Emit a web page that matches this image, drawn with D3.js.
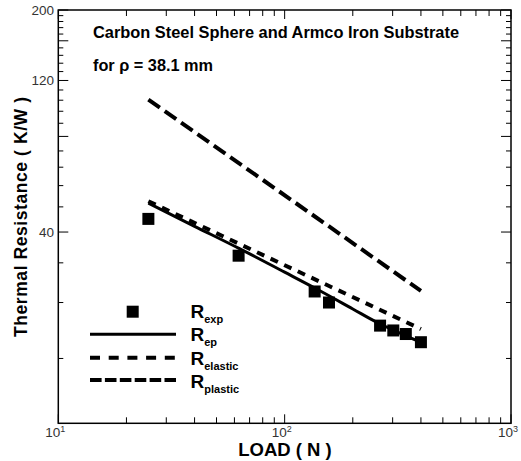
<!DOCTYPE html>
<html><head><meta charset="utf-8">
<script src="https://cdn.jsdelivr.net/npm/d3@7"></script>
<style>body{margin:0;background:#fff} svg{display:block} text{font-family:"Liberation Sans",Arial,Helvetica,sans-serif}</style>
</head><body><svg id="c" width="521" height="461"></svg>
<script>
const expLoad = [25, 62.6, 135.7, 157, 264, 302, 343, 400];
const expR = [44.0, 33.7, 26.0, 24.0, 20.3, 19.6, 19.1, 18.0];
const epLoad = [25, 40, 63.5, 100, 134, 200, 255, 330, 400];
const epR = [49.3, 41.7, 35.4, 29.9, 26.8, 22.9, 20.8, 19.1, 18.0];
const elasticLoad = [25, 400];
const elasticR = [50.0, 19.8];
const plasticLoad = [25, 400];
const plasticR = [104.5, 26.1];
const xMajorTicks = [10, 100, 1000];
const xTickExp = ["1", "2", "3"];
const yLabelTicks = [40, 120, 200];
const yMajorTicks = [40, 80, 120, 160, 200];
const legendItems = [["R", "exp"], ["R", "ep"], ["R", "elastic"], ["R", "plastic"]];

const svg = d3.select("#c");
const L = 58.3, R = 511, T = 10, B = 423.3;
const x = d3.scaleLog().domain([10, 1000]).range([L, R]);
const y = d3.scaleLog().domain([10, 200]).range([B, T]);

// minor ticks
const xMinor = [];
[10, 100].forEach(d => { for (let k = 2; k <= 9; k++) xMinor.push(d * k); });
const yMinor = d3.range(16, 200, 8).filter(v => yMajorTicks.indexOf(v) < 0);

const g = svg.append("g").attr("stroke", "#000").attr("stroke-width", 1);
xMinor.forEach(v => {
  g.append("line").attr("x1", x(v)).attr("x2", x(v)).attr("y1", B).attr("y2", B - 6);
  g.append("line").attr("x1", x(v)).attr("x2", x(v)).attr("y1", T).attr("y2", T + 6);
});
xMajorTicks.forEach(v => {
  g.append("line").attr("x1", x(v)).attr("x2", x(v)).attr("y1", B).attr("y2", B - 9);
  g.append("line").attr("x1", x(v)).attr("x2", x(v)).attr("y1", T).attr("y2", T + 9);
});
yMinor.forEach(v => {
  g.append("line").attr("x1", L).attr("x2", L + 5).attr("y1", y(v)).attr("y2", y(v));
  g.append("line").attr("x1", R).attr("x2", R - 5).attr("y1", y(v)).attr("y2", y(v));
});
yMajorTicks.forEach(v => {
  g.append("line").attr("x1", L).attr("x2", L + 10).attr("y1", y(v)).attr("y2", y(v));
  g.append("line").attr("x1", R).attr("x2", R - 10).attr("y1", y(v)).attr("y2", y(v));
});
svg.append("rect").attr("x", L).attr("y", T).attr("width", R - L).attr("height", B - T)
  .attr("fill", "none").attr("stroke", "#000").attr("stroke-width", 1.5);

// tick labels
yLabelTicks.forEach(v => {
  svg.append("text").attr("x", 54).attr("y", y(v) + 4.5).attr("text-anchor", "end")
    .attr("font-size", 13.5).attr("fill", "#333").text(v);
});
xMajorTicks.forEach((v, i) => {
  const t = svg.append("text").attr("x", x(v) - 3).attr("y", 437).attr("text-anchor", "middle")
    .attr("font-size", 13.5).attr("fill", "#333");
  t.append("tspan").text("10");
  t.append("tspan").attr("font-size", 9).attr("dy", -5).text(xTickExp[i]);
});

// axis titles
svg.append("text").attr("x", 285).attr("y", 456).attr("text-anchor", "middle")
  .attr("font-size", 18.5).attr("font-weight", "bold").text("LOAD ( N )");
svg.append("text").attr("transform", "translate(27,217) rotate(-90)").attr("text-anchor", "middle")
  .attr("font-size", 17.5).attr("font-weight", "bold").attr("textLength", 240).text("Thermal Resistance ( K/W )");

// annotations
svg.append("text").attr("x", 93).attr("y", 38).attr("font-size", 16).attr("font-weight", "bold")
  .attr("textLength", 366).attr("lengthAdjust", "spacingAndGlyphs")
  .text("Carbon Steel Sphere and Armco Iron Substrate");
svg.append("text").attr("x", 93).attr("y", 71).attr("font-size", 16).attr("font-weight", "bold")
  .attr("textLength", 120).attr("lengthAdjust", "spacingAndGlyphs")
  .text("for \u03C1 = 38.1 mm");

// lines
const line = d3.line().x(d => x(d[0])).y(d => y(d[1]));
svg.append("path").datum(plasticLoad.map((v, i) => [v, plasticR[i]])).attr("d", line)
  .attr("fill", "none").attr("stroke", "#000").attr("stroke-width", 4).attr("stroke-dasharray", "14,6");
svg.append("path").datum(elasticLoad.map((v, i) => [v, elasticR[i]])).attr("d", line)
  .attr("fill", "none").attr("stroke", "#000").attr("stroke-width", 4).attr("stroke-dasharray", "8,7");
svg.append("path").datum(epLoad.map((v, i) => [v, epR[i]])).attr("d", line.curve(d3.curveMonotoneX))
  .attr("fill", "none").attr("stroke", "#000").attr("stroke-width", 3);

// points
const S = 12;
svg.selectAll("rect.pt").data(expLoad.map((v, i) => [v, expR[i]])).enter().append("rect")
  .attr("class", "pt").attr("x", d => x(d[0]) - S / 2).attr("y", d => y(d[1]) - S / 2)
  .attr("width", S).attr("height", S).attr("fill", "#000");

// legend
const lx0 = 90, lx1 = 176, ly = [311.7, 334.3, 357.7, 380];
svg.append("rect").attr("x", 132.7 - S / 2).attr("y", ly[0] - S / 2).attr("width", S).attr("height", S).attr("fill", "#000");
svg.append("line").attr("x1", lx0).attr("x2", lx1).attr("y1", ly[1]).attr("y2", ly[1]).attr("stroke", "#000").attr("stroke-width", 3);
svg.append("line").attr("x1", lx0).attr("x2", lx1).attr("y1", ly[2]).attr("y2", ly[2]).attr("stroke", "#000").attr("stroke-width", 4).attr("stroke-dasharray", "10,8.7");
svg.append("line").attr("x1", lx0).attr("x2", lx1).attr("y1", ly[3]).attr("y2", ly[3]).attr("stroke", "#000").attr("stroke-width", 4).attr("stroke-dasharray", "11.6,3.3");
legendItems.forEach((it, i) => {
  const t = svg.append("text").attr("x", 190.5).attr("y", 318 + i * 23.4).attr("font-size", 19).attr("font-weight", "bold");
  t.append("tspan").text(it[0]);
  t.append("tspan").attr("font-size", 11).attr("dy", 5).text(it[1]);
});
</script></body></html>
